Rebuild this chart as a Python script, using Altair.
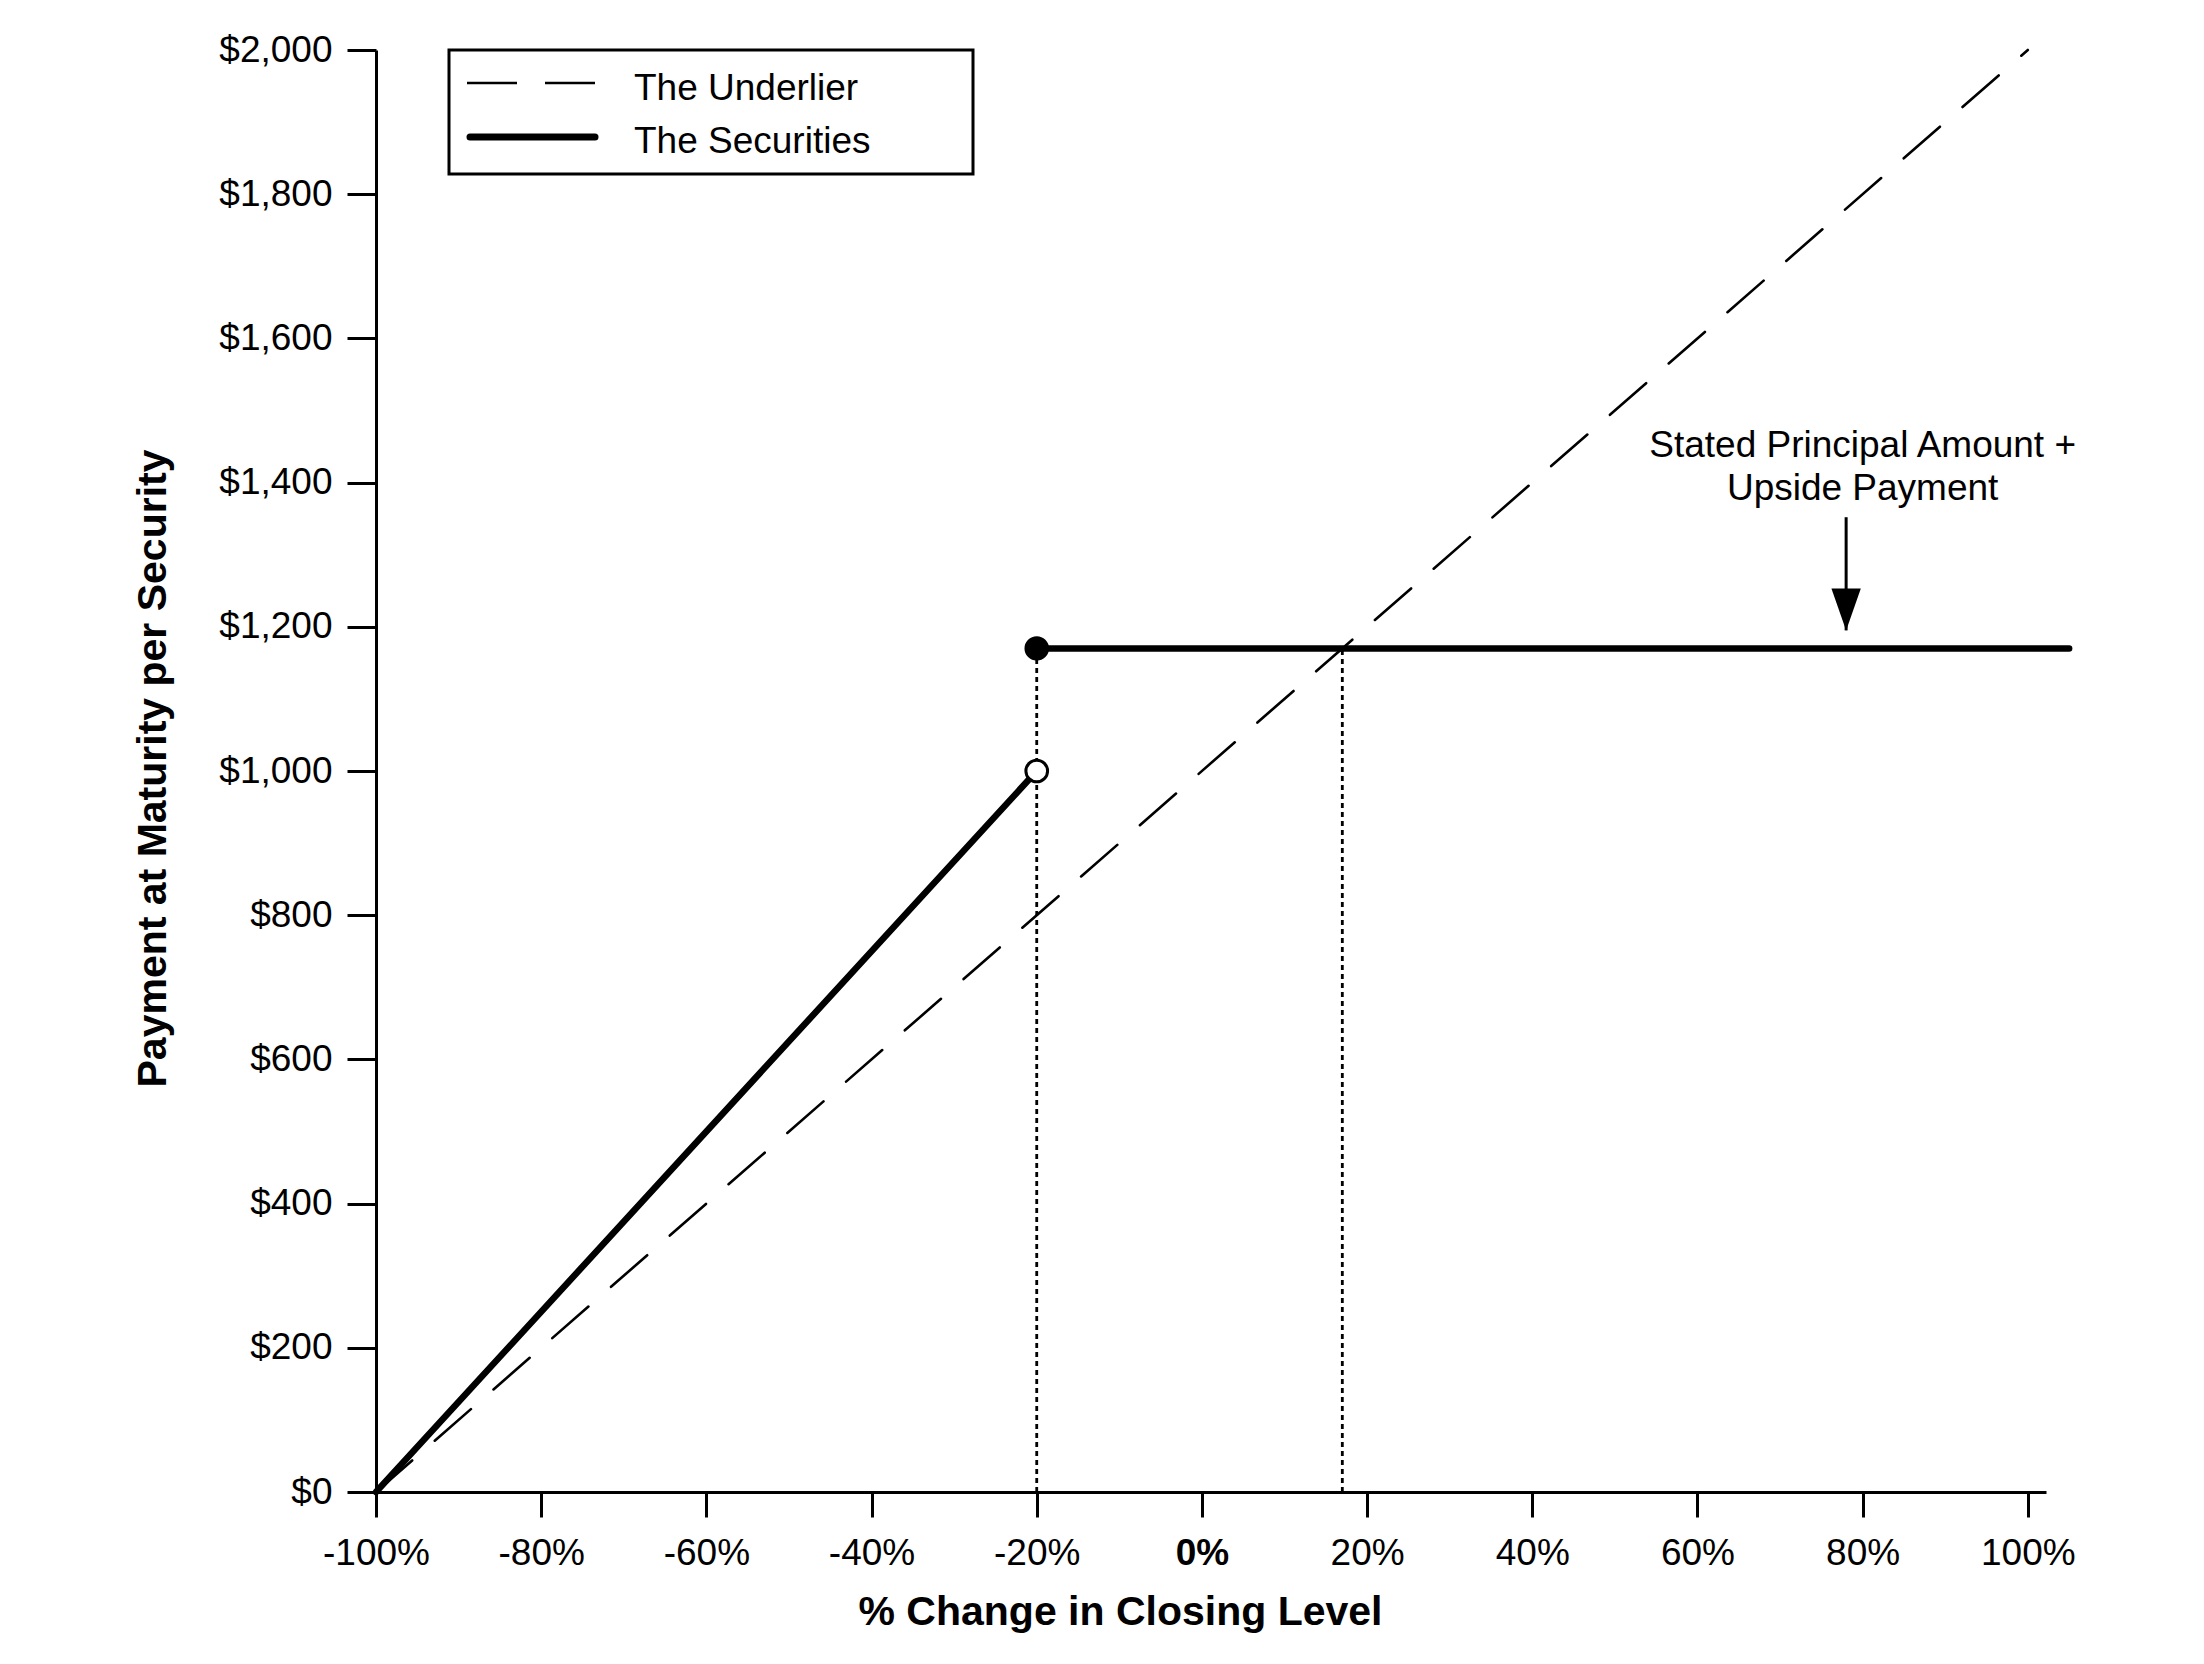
import altair as alt
import pandas as pd

# ---------------- data ----------------
pct_ticks = [-100, -80, -60, -40, -20, 0, 20, 40, 60, 80, 100]
dollar_ticks = [0, 200, 400, 600, 800, 1000, 1200, 1400, 1600, 1800, 2000]

series_names = ["The Underlier", "The Securities"]

underlier_pct = [-100, 100]
underlier_usd = [0, 2000]

securities_pct = [-100, -20, -20, 105]
securities_usd = [0, 1000, 1170, 1170]
securities_seg = ["below", "below", "above", "above"]

guide_pct = [-20, 17]
guide_top = [1170, 1170]

open_pct, open_usd = [-20], [1000]
filled_pct, filled_usd = [-20], [1170]

note_lines = ["Stated Principal Amount +", "Upside Payment"]
note_pct, note_usd = [80], [1435]
arrow_pct, arrow_from, arrow_tip = [78], [1352], [1195]

FONT = "Liberation Sans, Arial, Helvetica, sans-serif"
W, H = 1670, 1442

# ---------------- shared encodings ----------------
xscale = alt.Scale(domain=[-100, 102.2], nice=False, zero=False)
yscale = alt.Scale(domain=[0, 2000], nice=False, zero=False)

xaxis = alt.Axis(
    values=pct_ticks, labelExpr="datum.value + '%'",
    title="% Change in Closing Level", titleFont=FONT, titleFontSize=41,
    titleFontWeight="bold", titleColor="black", titleX=744, titleY=132,
    titleAlign="center", titleBaseline="alphabetic",
    labelFont=FONT, labelFontSize=37, labelColor="black", labelPadding=18,
    labelFontWeight={"condition": {"test": "datum.value == 0", "value": "bold"}, "value": "normal"},
    labelFlush=False, labelOverlap=False, labelBound=False,
    tickSize=25, tickWidth=3, tickColor="black",
    domainColor="black", domainWidth=3, grid=False,
)
yaxis = alt.Axis(
    values=dollar_ticks, format="$,.0f",
    title="Payment at Maturity per Security", titleFont=FONT, titleFontSize=41,
    titleFontWeight="bold", titleColor="black", titleX=-211, titleY=718,
    titleAngle=270, titleAlign="center", titleBaseline="alphabetic",
    labelFont=FONT, labelFontSize=37, labelColor="black", labelPadding=15,
    labelFlush=False, labelOverlap=False, labelBound=False,
    tickSize=29, tickWidth=3, tickColor="black",
    domainColor="black", domainWidth=3, grid=False,
)


def X(field="pct"):
    return alt.X(f"{field}:Q", scale=xscale, axis=xaxis)


def Y(field="usd"):
    return alt.Y(f"{field}:Q", scale=yscale, axis=yaxis)


# ---------------- layers ----------------
underlier = alt.Chart(pd.DataFrame({"pct": underlier_pct, "usd": underlier_usd})).mark_line(
    color="black", strokeWidth=2.6, strokeDash=[48, 30], strokeCap="round"
).encode(x=X(), y=Y())

securities = alt.Chart(pd.DataFrame({
    "pct": securities_pct, "usd": securities_usd, "seg": securities_seg
})).mark_line(color="black", strokeWidth=6.5, strokeCap="round").encode(
    x=X(), y=Y(), detail="seg:N"
)

guides = alt.Chart(pd.DataFrame({
    "pct": guide_pct, "base": [0] * len(guide_pct), "top": guide_top
})).mark_rule(color="black", strokeWidth=2.8, strokeDash=[5, 4]).encode(
    x=X(), y=Y("base"), y2="top:Q"
)

open_pt = alt.Chart(pd.DataFrame({"pct": open_pct, "usd": open_usd})).mark_point(
    shape="circle", filled=True, fill="white", stroke="black", strokeWidth=3,
    size=470, opacity=1
).encode(x=X(), y=Y())

filled_pt = alt.Chart(pd.DataFrame({"pct": filled_pct, "usd": filled_usd})).mark_point(
    shape="circle", filled=True, fill="black", size=600, opacity=1
).encode(x=X(), y=Y())

note = alt.Chart(pd.DataFrame({"pct": note_pct, "usd": note_usd})).mark_text(
    text=note_lines, font=FONT, fontSize=37, lineHeight=43, align="center",
    baseline="alphabetic", color="black"
).encode(x=X(), y=Y())

arrow_df = pd.DataFrame({"pct": arrow_pct, "usd": arrow_from, "tip": arrow_tip})
arrow_shaft = alt.Chart(arrow_df).mark_rule(color="black", strokeWidth=3).encode(
    x=X(), y=Y(), y2="tip:Q"
)
arrow_head = alt.Chart(pd.DataFrame({"pct": arrow_pct, "usd": arrow_tip})).mark_point(
    shape="M -0.35 -1 L 0.35 -1 L 0 0 Z", size=7056, filled=True, fill="black",
    strokeWidth=0, opacity=1
).encode(x=X(), y=Y())

# ---------------- legend (drawn in the plot's top-left corner) ----------------
one = pd.DataFrame({"k": [0]})
legend_box = alt.Chart(one).mark_rect(fill="white", stroke="black", strokeWidth=3).encode(
    x=alt.value(73), x2=alt.value(597), y=alt.value(0), y2=alt.value(124)
)
legend_dash = alt.Chart(one).mark_rule(color="black", strokeWidth=2.6, strokeDash=[50, 28]).encode(
    x=alt.value(91), x2=alt.value(222), y=alt.value(33)
)
legend_solid = alt.Chart(one).mark_rule(color="black", strokeWidth=7, strokeCap="round").encode(
    x=alt.value(94), x2=alt.value(219), y=alt.value(87)
)
legend_t1 = alt.Chart(one).mark_text(
    text=series_names[0], font=FONT, fontSize=37, align="left", baseline="alphabetic", color="black"
).encode(x=alt.value(258), y=alt.value(50))
legend_t2 = alt.Chart(one).mark_text(
    text=series_names[1], font=FONT, fontSize=37, align="left", baseline="alphabetic", color="black"
).encode(x=alt.value(258), y=alt.value(103))

chart = alt.layer(
    guides, underlier, securities, open_pt, filled_pt, arrow_shaft, arrow_head, note,
    legend_box, legend_dash, legend_solid, legend_t1, legend_t2
).properties(
    width=W, height=H,
    autosize=alt.AutoSizeParams(type="none"),
    padding={"left": 368, "top": 42, "right": 145, "bottom": 160},
    background="white",
).configure_view(stroke=None)

chart.save("out.html", embed_options={"renderer": "svg", "actions": False})
